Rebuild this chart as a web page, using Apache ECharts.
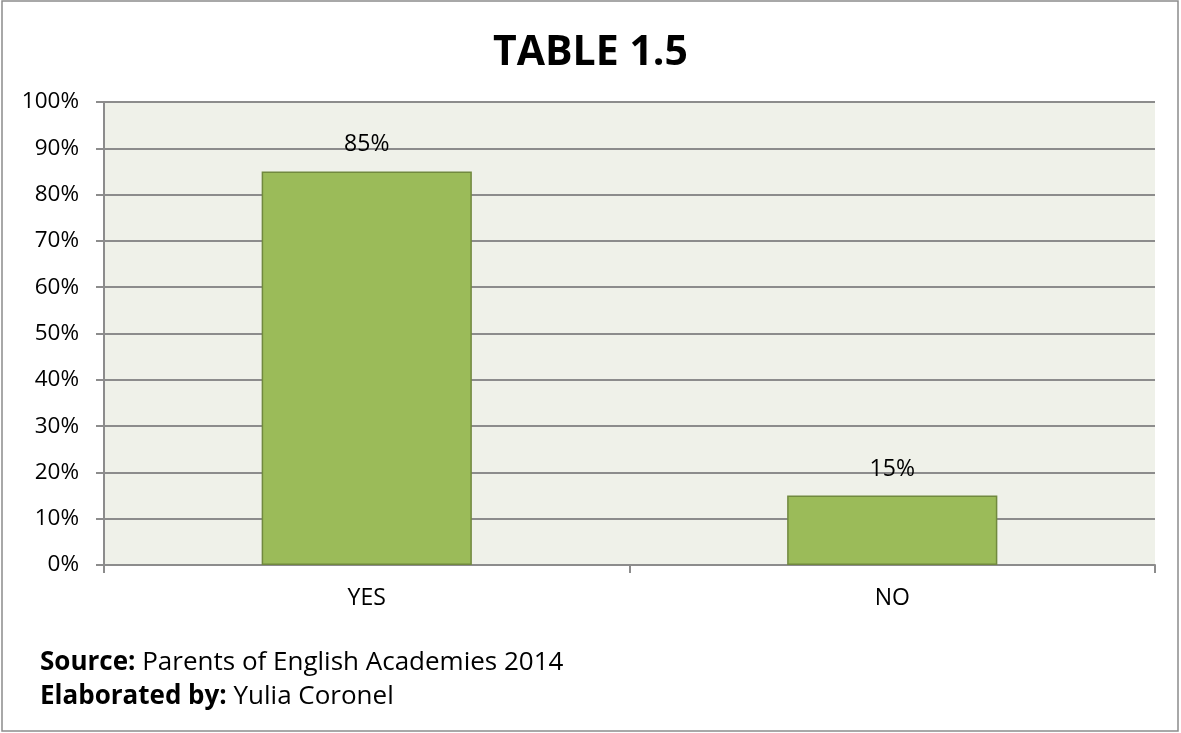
<!DOCTYPE html>
<html><head><meta charset="utf-8">
<script src="https://cdn.jsdelivr.net/npm/echarts@6/dist/echarts.min.js"></script>
<style>html,body{margin:0;padding:0;background:#fff}#c{width:1181px;height:733px}</style>
</head><body><div id="c"></div>
<script>
const categories = ['YES', 'NO'];
const values = [85, 15];
const titleText = 'TABLE 1.5';
const sourceLabel = 'Source:';
const sourceText = ' Parents of English Academies 2014';
const authorLabel = 'Elaborated by:';
const authorText = ' Yulia Coronel';

const FONT = '"Open Sans", "Noto Sans", sans-serif';
const richFoot = {
  b: {fontWeight: 'bold', fontSize: 26, fontFamily: FONT, fill: '#000', color: '#000'},
  n: {fontSize: 26, fontFamily: FONT, fill: '#000', color: '#000'}
};
const chart = echarts.init(document.getElementById('c'), null, {renderer: 'canvas'});
chart.setOption({
  animation: false,
  backgroundColor: '#fff',
  textStyle: {fontFamily: FONT},
  title: {
    text: titleText, left: 'center', top: 28,
    textStyle: {fontFamily: FONT, fontSize: 41, fontWeight: 'bold', color: '#000'}
  },
  graphic: [
    {type: 'rect', shape: {x: 2, y: 1, width: 1176, height: 730}, style: {fill: 'none', stroke: '#8c8c8c', lineWidth: 1.5}, silent: true},
    {type: 'text', x: 40, y: 663, style: {rich: richFoot, text: '{b|' + sourceLabel + '}{n|' + sourceText + '}', verticalAlign: 'middle'}},
    {type: 'text', x: 40, y: 697, style: {rich: richFoot, text: '{b|' + authorLabel + '}{n|' + authorText + '}', verticalAlign: 'middle'}}
  ],
  grid: {left: 104, right: 26, top: 102, bottom: 168, show: true, backgroundColor: '#eff1e9', borderWidth: 0},
  xAxis: {
    type: 'category', data: categories,
    axisLine: {lineStyle: {color: '#8c8c8c', width: 2}},
    axisTick: {show: true, length: 8, lineStyle: {color: '#8c8c8c', width: 2}},
    axisLabel: {fontSize: 23, color: '#000', margin: 22, fontFamily: FONT}
  },
  yAxis: {
    type: 'value', min: 0, max: 100, interval: 10,
    axisLine: {show: true, lineStyle: {color: '#8c8c8c', width: 2}},
    axisTick: {show: true, length: 8, lineStyle: {color: '#8c8c8c', width: 2}},
    splitLine: {lineStyle: {color: '#8c8c8c', width: 2}},
    axisLabel: {formatter: '{value}%', fontSize: 22.5, color: '#000', margin: 25, fontFamily: FONT}
  },
  series: [{
    type: 'bar', data: values, barWidth: '40%',
    itemStyle: {color: '#9bbb59', borderColor: '#71893f', borderWidth: 1.5},
    label: {show: true, position: 'top', distance: 15, formatter: '{c}%', fontSize: 23, color: '#000', fontFamily: FONT}
  }]
});
</script></body></html>
